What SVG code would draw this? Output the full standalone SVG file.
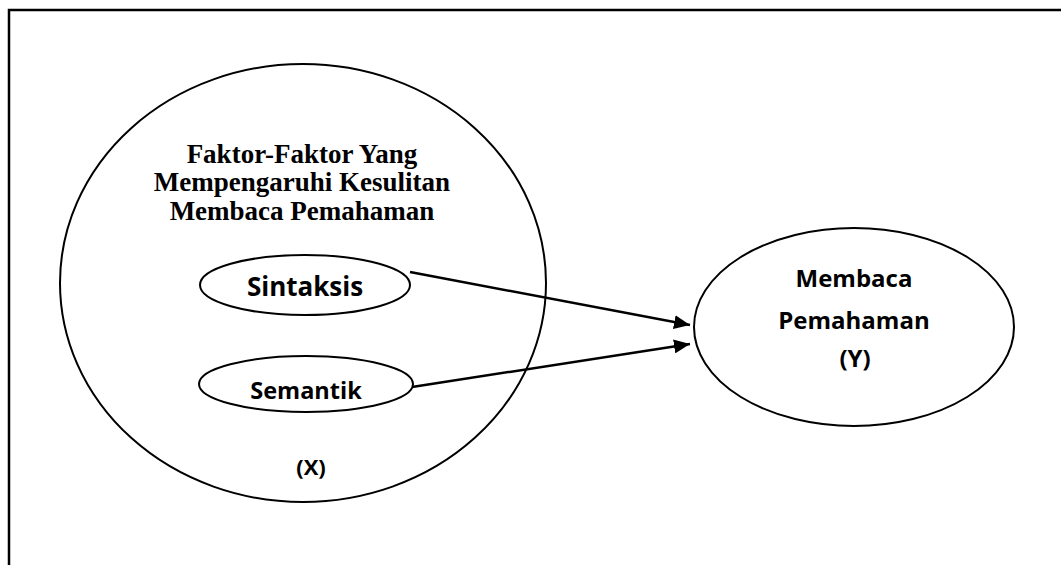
<svg xmlns="http://www.w3.org/2000/svg" width="1061" height="565" viewBox="0 0 1061 565">
<style>
.shape{fill:#fff;stroke:#000;stroke-width:2}
.ttl{font-family:"Liberation Serif","Times New Roman",serif;font-weight:bold;font-size:27px;fill:#000;text-anchor:middle}
.lbl{font-family:"Open Sans","Noto Sans",sans-serif;font-weight:bold;fill:#000;text-anchor:middle;font-variant-ligatures:none}
.conn{stroke:#000;stroke-width:2.5;fill:none}
</style>
<defs>
<marker id="arr" markerUnits="userSpaceOnUse" markerWidth="18" markerHeight="14" refX="16" refY="7" orient="auto">
<path d="M0,0 L16,7 L0,14 Z" fill="#000"/>
</marker>
</defs>
<rect width="1061" height="565" fill="#fff"/>
<polyline points="9,565 9,10 1061,10" fill="none" stroke="#000" stroke-width="2.5"/>
<g id="nodeX">
<ellipse class="shape" cx="303" cy="283" rx="243" ry="219"/>
<text class="ttl" x="302" y="163">Faktor-Faktor Yang</text>
<text class="ttl" x="302" y="191">Mempengaruhi Kesulitan</text>
<text class="ttl" x="302" y="220">Membaca Pemahaman</text>
<text class="lbl" x="311" y="475" font-size="22">(X)</text>
</g>
<g id="sintaksis">
<ellipse class="shape" cx="305" cy="285" rx="105" ry="30"/>
<text class="lbl" x="305" y="296" font-size="26">Sintaksis</text>
</g>
<g id="semantik">
<ellipse class="shape" cx="306" cy="384" rx="107" ry="28"/>
<text class="lbl" x="306" y="399" font-size="23.5">Semantik</text>
</g>
<g id="nodeY">
<ellipse class="shape" cx="854" cy="327" rx="160" ry="99"/>
<text class="lbl" x="854" y="287" font-size="24">Membaca</text>
<text class="lbl" x="854" y="329" font-size="24">Pemahaman</text>
<text class="lbl" x="855" y="367" font-size="24">(Y)</text>
</g>
<g id="connectors">
<line class="conn" x1="410" y1="272" x2="690" y2="325" marker-end="url(#arr)"/>
<line class="conn" x1="412" y1="387" x2="690" y2="344" marker-end="url(#arr)"/>
</g>
</svg>
